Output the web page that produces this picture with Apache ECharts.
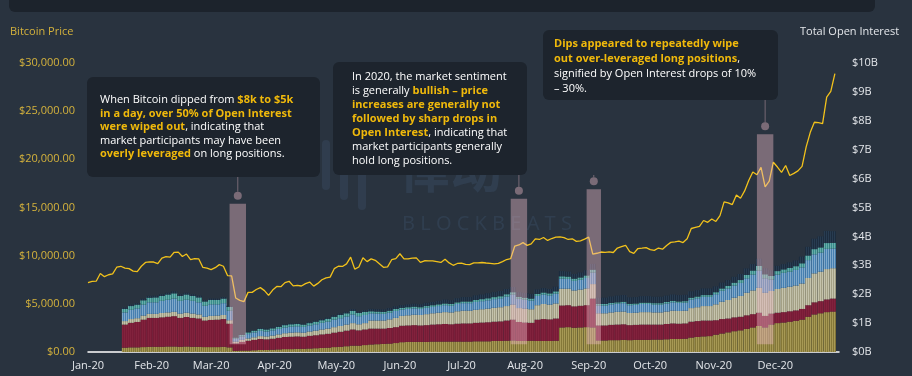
<!DOCTYPE html>
<html>
<head>
<meta charset="utf-8">
<script src="https://cdn.jsdelivr.net/npm/echarts@6/dist/echarts.min.js"></script>
<style>
  html, body { margin: 0; padding: 0; background: #29333f; }
  #chart { width: 912px; height: 376px; }
</style>
</head>
<body>
<div id="chart"></div>
<script>
// bitcoin price, one value every 2 days from 1 Jan 2020
const priceStep = 2
const price = [
  7200, 7340, 7350, 8150, 7820, 8020, 8110, 8800, 8900, 8700, 8650, 8400, 8350, 8900, 9300, 9350,
  9340, 9170, 9750, 9900, 9850, 10350, 10370, 9920, 10170, 9600, 9690, 9660, 8780, 8700,
  8550, 8750, 9070, 8900, 7930, 7910, 5600, 5360, 5230, 6190, 6190, 6490, 6680, 6370, 5880, 6430,
  6800, 6780, 7200, 7340, 6860, 6910, 6850, 7100, 7260, 6840, 7120, 7500, 7700, 7770, 8650,
  8900, 8880, 9150, 9840, 8600, 8820, 9790, 9380, 9670, 9520, 9170, 8790, 8840, 9580, 9700,
  10200, 9670, 9660, 9750, 9770, 9300, 9470, 9450, 9460, 9380, 9300, 9630, 9250, 9000, 9190,
  9230, 9090, 9070, 9250, 9250, 9290, 9240, 9200, 9150, 9200, 9390, 9600, 9700, 11000, 11110, 11350,
  11070, 11230, 11750, 11680, 11890, 11580, 11780, 11920, 11960, 11870, 11680, 11750, 11480, 11540, 11710,
  11920, 10170, 10250, 10380, 10340, 10390, 10330, 10790, 10940, 11080, 10420, 10240, 10740, 10780, 10840,
  10620, 10550, 10790, 10670, 11060, 11380, 11430, 11500, 11360, 11750, 12820, 12930, 13030, 13650, 13460, 13800,
  13550, 14150, 15590, 15480, 15300, 16300, 15960, 16720, 17800, 18680, 18400, 19170, 17150, 17730, 19700,
  19200, 18650, 19360, 18320, 18540, 18800, 19270, 21300, 22800, 23850, 23800, 23700, 26450, 27050, 28900
]

// open interest by exchange group ($B), one value every 3 days from 19 Jan 2020
const oiStart = 18
const oiStep = 3
const oiOlive = [
  .15, .16, .16, .17, .18, .18, .18, .19, .19, .18, .19, .18, .18, .17, .17, .17, .18, .16, .04, .05,
  .05, .06, .07, .07, .08, .09, .10, .10, .11, .11, .12, .13, .14, .15, .17, .18, .20, .22, .22, .24,
  .26, .27, .28, .29, .31, .34, .35, .35, .35, .35, .36, .36, .36, .36, .36, .36, .36, .37, .37, .37,
  .38, .38, .39, .40, .38, .38, .39, .38, .38, .38, .39, .85, .86, .84, .85, .86, .85, .40, .40, .41,
  .41, .42, .41, .42, .42, .42, .43, .43, .44, .45, .45, .46, .50, .52, .54, .55, .60, .64, .68, .72,
  .75, .80, .85, .90, .85, .95, 1.00, 1.02, 1.05, 1.08, 1.12, 1.22, 1.30, 1.34, 1.38, 1.40
]
const oiMaroon = [
  .80, .85, .88, .95, 1.00, 1.00, 1.02, 1.03, 1.05, 1.00, 1.02, 1.00, .98, .92, .94, .95, .96, .82, .26, .30,
  .34, .36, .38, .37, .38, .40, .42, .43, .43, .42, .44, .45, .47, .48, .50, .52, .54, .56, .53, .54,
  .55, .54, .53, .54, .55, .57, .57, .58, .57, .58, .59, .60, .61, .60, .62, .63, .63, .64, .65, .66,
  .67, .68, .70, .72, .66, .64, .62, .74, .76, .75, .77, .76, .76, .74, .75, .76, 1.00, .52, .52, .53,
  .54, .54, .52, .52, .53, .53, .52, .52, .53, .54, .53, .53, .55, .55, .55, .54, .50, .50, .48, .48,
  .47, .47, .46, .46, .40, .38, .36, .36, .36, .36, .37, .40, .42, .42, .44, .45
]
const oiBeige = [
  .12, .13, .13, .14, .14, .14, .15, .15, .15, .15, .15, .15, .14, .13, .14, .14, .14, .12, .06, .07,
  .08, .09, .10, .10, .11, .12, .13, .14, .14, .14, .15, .16, .17, .18, .19, .20, .21, .22, .21, .22,
  .28, .28, .28, .30, .32, .34, .35, .36, .36, .38, .39, .40, .41, .41, .43, .44, .44, .45, .46, .47,
  .48, .49, .50, .52, .48, .48, .47, .50, .52, .51, .52, .58, .57, .55, .56, .58, .50, .42, .42, .43,
  .44, .44, .42, .42, .43, .43, .42, .42, .43, .44, .44, .44, .47, .48, .50, .50, .55, .60, .64, .68,
  .72, .78, .82, .86, .80, .78, .82, .84, .85, .86, .88, .94, 1.00, 1.02, 1.05, 1.05
]
const oiBlue = [
  .30, .32, .34, .38, .40, .40, .42, .44, .46, .44, .45, .44, .42, .38, .40, .39, .41, .33, .10, .12,
  .15, .17, .18, .17, .18, .19, .20, .21, .21, .20, .21, .22, .23, .24, .26, .27, .28, .30, .28, .28,
  .25, .24, .23, .23, .24, .22, .22, .22, .21, .22, .22, .23, .24, .23, .25, .26, .26, .27, .28, .29,
  .30, .31, .33, .35, .32, .31, .30, .32, .33, .32, .34, .35, .34, .33, .34, .36, .40, .27, .27, .28,
  .28, .29, .27, .27, .28, .28, .27, .27, .28, .29, .28, .28, .30, .31, .32, .32, .35, .38, .40, .42,
  .45, .50, .55, .60, .50, .40, .50, .52, .52, .54, .56, .62, .66, .66, .70, .68
]
const oiTeal = [
  .12, .13, .13, .15, .16, .17, .17, .18, .18, .17, .18, .17, .17, .15, .15, .15, .16, .13, .04, .05,
  .06, .06, .07, .07, .07, .07, .08, .08, .08, .08, .08, .09, .09, .10, .10, .11, .11, .12, .11, .11,
  .07, .07, .07, .07, .07, .06, .06, .06, .06, .06, .06, .06, .06, .06, .06, .06, .06, .07, .07, .07,
  .07, .07, .08, .08, .07, .07, .07, .07, .07, .07, .08, .08, .08, .08, .08, .09, .10, .05, .05, .05,
  .05, .05, .05, .05, .05, .05, .05, .05, .05, .05, .05, .05, .06, .06, .06, .06, .07, .08, .09, .10,
  .10, .12, .14, .16, .14, .12, .12, .12, .13, .13, .14, .16, .18, .18, .20, .20
]
const oiNavy = [
  .05, .05, .05, .05, .06, .06, .06, .06, .07, .06, .06, .06, .06, .05, .05, .05, .05, .04, .02, .02,
  .02, .02, .03, .03, .03, .03, .03, .03, .03, .03, .04, .04, .04, .04, .05, .05, .05, .06, .05, .06,
  .08, .08, .08, .09, .09, .09, .10, .10, .10, .11, .11, .12, .13, .13, .14, .15, .15, .16, .16, .17,
  .17, .18, .18, .18, .16, .16, .16, .15, .15, .15, .16, .18, .17, .16, .17, .18, .20, .22, .22, .22,
  .23, .23, .22, .22, .22, .22, .22, .22, .22, .22, .22, .22, .22, .22, .23, .23, .20, .20, .20, .20,
  .21, .22, .22, .25, .21, .20, .18, .18, .19, .20, .23, .30, .36, .38, .42, .40
]

const monthLabels = ['Jan-20', 'Feb-20', 'Mar-20', 'Apr-20', 'May-20', 'Jun-20',
  'Jul-20', 'Aug-20', 'Sep-20', 'Oct-20', 'Nov-20', 'Dec-20']
const priceTicks = [0, 5000, 10000, 15000, 20000, 25000, 30000]
const oiTicks = [0, 1, 2, 3, 4, 5, 6, 7, 8, 9, 10]

// highlighted drops: [first day, last day (day of year, 0 = 1 Jan), top price level]
const highlights = [
  [69, 77, 15400],
  [206, 214, 15900],
  [243, 250, 16900],
  [326, 334, 22600]
]

// one category per day, 1 Jan 2020 .. 1 Jan 2021
const nDays = 367
const days = []
for (let i = 0; i < nDays; i++) {
  const d = new Date(2020, 0, 1 + i)
  days.push(d.getFullYear() + '-' + (d.getMonth() + 1) + '-' + d.getDate())
}

const priceData = new Array(nDays).fill(null)
price.forEach((v, i) => { priceData[i * priceStep] = v })

const layerData = (arr) => {
  const out = new Array(nDays).fill('-')
  arr.forEach((v, i) => { out[oiStart + i * oiStep] = v })
  return out
}

const chart = echarts.init(document.getElementById('chart'))

const font = 'Open Sans'
const stripe = (c) => ({ symbol: 'rect', symbolSize: 1, dashArrayX: [1, 1], dashArrayY: [4, 0], color: c })
const layers = [
  { data: oiOlive, color: '#857838', decal: stripe('rgba(232,214,140,0.35)') },
  { data: oiMaroon, color: '#781b36', decal: stripe('rgba(150,50,75,0.35)') },
  { data: oiBeige, color: '#a3a085', decal: stripe('rgba(240,238,220,0.45)') },
  { data: oiBlue, color: '#467fb0', decal: stripe('rgba(215,232,245,0.4)') },
  { data: oiTeal, color: '#378c8a', decal: stripe('rgba(200,235,230,0.35)') },
  { data: oiNavy, color: '#1c2c3e', decal: stripe('rgba(60,85,110,0.4)') }
]

const option = {
  backgroundColor: '#29333f',
  animation: false,
  grid: { left: 88, right: 73, top: 63, bottom: 24 },
  xAxis: {
    type: 'category',
    data: days,
    boundaryGap: false,
    axisLine: { lineStyle: { color: '#ffffff', width: 1.5 } },
    axisTick: { show: false },
    splitLine: { show: false },
    axisLabel: {
      color: '#e3e6ea',
      fontFamily: font,
      fontSize: 11,
      margin: 8,
      interval: (i, v) => v.endsWith('-1') && v.startsWith('2020'),
      formatter: (v) => monthLabels[Number(v.split('-')[1]) - 1]
    }
  },
  yAxis: [
    {
      type: 'value',
      min: priceTicks[0],
      max: priceTicks[priceTicks.length - 1],
      interval: 5000,
      axisLine: { show: false },
      axisTick: { show: false },
      splitLine: { show: false },
      axisLabel: {
        color: '#d4b23c',
        fontFamily: font,
        fontSize: 11,
        margin: 13,
        formatter: (v) => '$' + v.toLocaleString('en-US', { minimumFractionDigits: 2 })
      }
    },
    {
      type: 'value',
      min: oiTicks[0],
      max: oiTicks[oiTicks.length - 1],
      interval: 1,
      axisLine: { show: false },
      axisTick: { show: false },
      splitLine: { show: false },
      axisLabel: {
        color: '#e3e6ea',
        fontFamily: font,
        fontSize: 11,
        margin: 13,
        formatter: (v) => '$' + v + 'B'
      }
    }
  ],
  series: [
    ...layers.map((l, n) => ({
      name: 'oi' + n,
      type: 'bar',
      stack: 'oi',
      yAxisIndex: 1,
      barWidth: 6.2,
      z: 2,
      itemStyle: { color: l.color, decal: l.decal },
      data: layerData(l.data)
    })),
    {
      name: 'Bitcoin Price',
      type: 'line',
      yAxisIndex: 0,
      showSymbol: false,
      connectNulls: true,
      z: 4,
      lineStyle: { color: '#f2c21b', width: 1.3 },
      data: priceData,
      markArea: {
        silent: true,
        z: 10,
        itemStyle: { color: 'rgba(236,186,198,0.42)' },
        data: highlights.map(h => [
          { xAxis: days[h[0]], yAxis: h[2] },
          { xAxis: days[h[1]], yAxis: 800 }
        ])
      }
    }
  ],
  graphic: [
    { type: 'rect', id: 'titlebar', shape: { x: 9, y: -8, width: 866, height: 20, r: 6 }, style: { fill: '#1c232c' } },
    { type: 'text', id: 'wm1', x: 398, y: 142, style: { text: '律动', fill: 'rgba(90,125,170,0.16)', font: 'bold 52px "Noto Sans CJK SC"' } },
    { type: 'text', id: 'wm2', x: 402, y: 214, style: { text: 'B L O C K B E A T S', fill: 'rgba(90,125,170,0.16)', font: '20px "Noto Sans"' } },
    { type: 'rect', id: 'wm3', shape: { x: 322, y: 140, width: 8, height: 50, r: 4 }, style: { fill: 'rgba(90,125,170,0.14)' } },
    { type: 'rect', id: 'wm4', shape: { x: 340, y: 150, width: 8, height: 50, r: 4 }, style: { fill: 'rgba(90,125,170,0.14)' } },
    { type: 'rect', id: 'wm5', shape: { x: 358, y: 160, width: 8, height: 50, r: 4 }, style: { fill: 'rgba(90,125,170,0.14)' } },
    { type: 'text', id: 'lname', x: 10, y: 26, style: { text: 'Bitcoin Price', fill: '#d4b23c', font: '11px "Open Sans"' } },
    { type: 'text', id: 'rname', x: 800, y: 26, style: { text: 'Total Open Interest', fill: '#e3e6ea', font: '11px "Open Sans"' } },
    { type: 'rect', id: 'box1', shape: { x: 87, y: 77, width: 233, height: 100, r: 6 }, style: { fill: '#1d242d' } },
    { type: 'rect', id: 'box2', shape: { x: 333, y: 62, width: 194, height: 113, r: 6 }, style: { fill: '#1d242d' } },
    { type: 'rect', id: 'box3', shape: { x: 543, y: 30, width: 235, height: 70, r: 6 }, style: { fill: '#1d242d' } }
  ]
}

chart.setOption(option)

const rich = (lh) => ({
  y: { fill: '#f0b90b', fontWeight: 'bold', fontFamily: font, fontSize: 11, lineHeight: lh }
})
const note = (id, x, y, lh, text) => ({
  type: 'text', id, x, y, z: 20,
  style: { text, fill: '#ffffff', fontFamily: font, fontSize: 11, lineHeight: lh, rich: rich(lh) }
})

const notes = [
  note('n1', 100, 93, 13.6,
    'When Bitcoin dipped from {y|$8k to $5k}\n{y|in a day, over 50% of Open Interest}\n{y|were wiped out}, indicating that\nmarket participants may have been\n{y|overly leveraged} on long positions.'),
  note('n2', 352, 70, 14,
    'In 2020, the market sentiment\nis generally {y|bullish – price}\n{y|increases are generally not}\n{y|followed by sharp drops in}\n{y|Open Interest}, indicating that\nmarket participants generally\nhold long positions.'),
  note('n3', 554, 36, 15,
    '{y|Dips appeared to repeatedly wipe}\n{y|out over-leveraged long positions},\nsignified by Open Interest drops of 10%\n– 30%.')
]

// pins from note boxes down to highlighted areas
const boxBottoms = [177, 175, 175, 100]
const pins = []
highlights.forEach((h, i) => {
  const x0 = chart.convertToPixel({ xAxisIndex: 0 }, h[0])
  const x1 = chart.convertToPixel({ xAxisIndex: 0 }, h[1])
  const px = (x0 + x1) / 2
  const py = chart.convertToPixel({ yAxisIndex: 0 }, h[2])
  pins.push({ type: 'line', id: 'pl' + i, shape: { x1: px, y1: boxBottoms[i], x2: px, y2: py - 12 }, style: { stroke: 'rgba(236,186,198,0.4)', lineWidth: 1 } })
  pins.push({ type: 'circle', id: 'pc' + i, shape: { cx: px, cy: py - 8, r: 4 }, style: { fill: 'rgba(236,186,198,0.42)' } })
})

chart.setOption({ graphic: notes.concat(pins) })
</script>
</body>
</html>
